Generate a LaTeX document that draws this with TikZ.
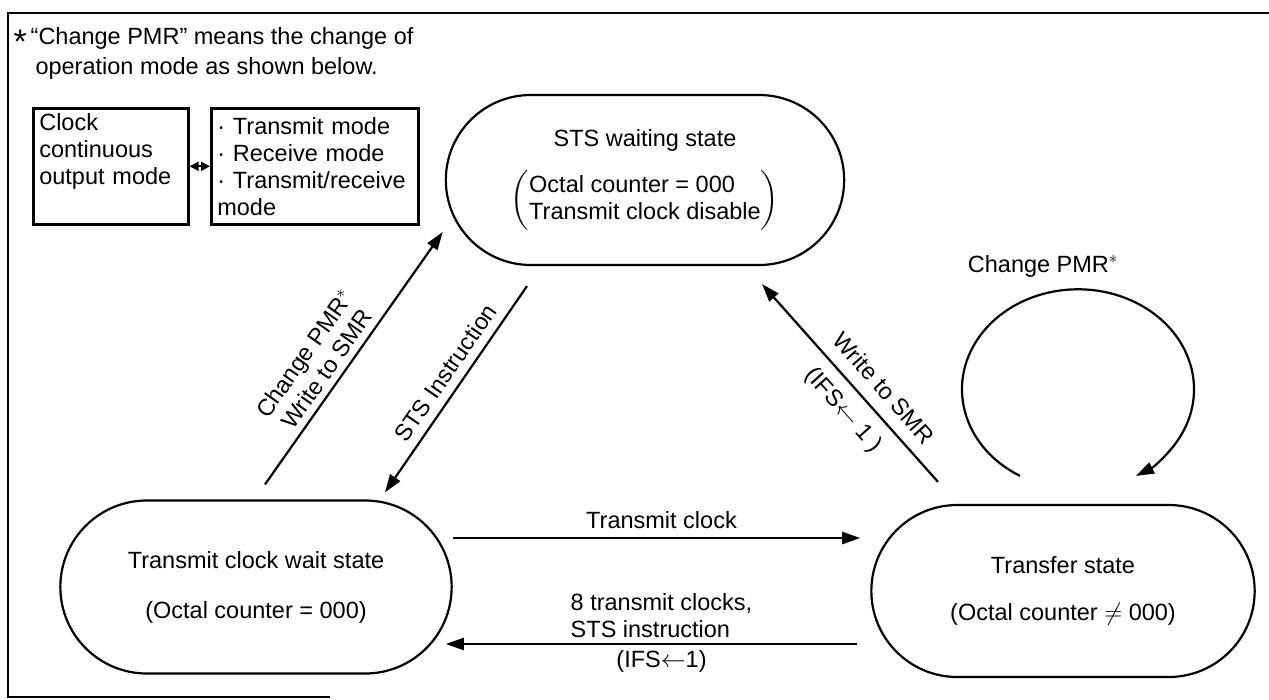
\documentclass[tikz,border=0pt]{standalone}
\usepackage{fontspec}
\setmainfont{Liberation Sans}
\usepackage{amsmath}
\usetikzlibrary{shapes.misc}
\usetikzlibrary{arrows.meta}
\usetikzlibrary{positioning}

\begin{document}
\begin{tikzpicture}[
		x=1pt,
		y=1pt,
		font=\fontsize{23.5pt}{27pt}\selectfont,
		>={Triangle[length=18pt,width=12pt]},
	]
		\tikzset{state/.style={
			draw,
			rounded rectangle,
			line width=2.2pt,
			align=center,
		}}
		\tikzset{modebox/.style={
			draw,
			rectangle,
			line width=2.6pt,
			anchor=north west,
			minimum height=116,
			inner xsep=6,
			align=left,
		}}
		\tikzset{flow/.style={
			line width=2.2pt,
		}}

		\useasboundingbox (0,0) rectangle (1269,-699);

		% frame
		\draw[line width=2.6pt] (1269,-13) -- (8,-13) -- (8,-697) -- (330,-697);

		%---------------------------------
		% Note
		\node[anchor=west] (note1) at (10,-40) {\raisebox{-9pt}{\fontsize{34pt}{34pt}\selectfont *}\,``Change PMR'' means the change of};
		\node[
			anchor=west,
			xshift=22,
			yshift=-28,
		] (note2) at (note1.west) {operation mode as shown below.};

		\node[
			modebox,
			text width=143,
		] (clockbox) at (32,-107) {Clock\\continuous\\output mode\\\strut};
		\node[
			modebox,
			text width=195,
		] (modebox) at (210,-107) {·\ Transmit mode\\·\ Receive mode\\·\ Transmit/receive\\mode};

		\draw[{Triangle[length=9pt,width=9pt]}-{Triangle[length=9pt,width=9pt]}, line width=2pt] (clockbox) -- (modebox);

		%---------------------------------
		% States
		\node[
			state,
			minimum width=405,
			minimum height=170,
		] (stswait) at (645,-180) {STS waiting state\\[18pt]$\left(\begin{tabular}{@{}l@{}}Octal counter = 000\\Transmit clock disable\end{tabular}\right)$};
		\node[
			state,
			minimum width=398,
			minimum height=173,
		] (clkwait) at (256,-587) {Transmit clock wait state\\[23pt](Octal counter = 000)};
		\node[
			state,
			minimum width=390,
			minimum height=172,
		] (transfer) at (1063,-591) {Transfer state\\[20pt](Octal counter $\neq$ 000)};

		%---------------------------------
		% Transitions
		\draw[flow, ->] ([shift={(9,15)}]clkwait.north) -- node[pos=0.42, sloped, above=3pt, align=center] {Change PMR$^*$\\Write to SMR} ([shift={(-2,-52)}]stswait.west);
		\draw[flow, <-] ([shift={(129,7)}]clkwait.north) -- node[pos=0.53, sloped, above=5pt] {STS Instruction} ([shift={(-118,-20)}]stswait.south);
		\draw[flow, <-] ([shift={(117,-18)}]stswait.south) -- node[pos=0.6, sloped, above=9pt] {Write to SMR} node[pos=0.56, sloped, below=8pt] {(IFS$\leftarrow$ 1 )} ([shift={(-125,22)}]transfer.north);

		\draw[flow, ->, shorten >=10pt] ([yshift=49]clkwait.east) -- node[above=5pt] {Transmit clock} ([yshift=49]clkwait.east -| transfer.west);
		\draw[flow, ->, shorten <=13pt, shorten >=-7pt] ([yshift=-53]transfer.west) -- node[above=2pt, align=left] {8 transmit clocks,\\STS instruction} node[below=2pt] {(IFS$\leftarrow$1)} ([yshift=-53]transfer.west -| clkwait.east);

		% self loop
		\draw[flow, ->] ([shift={(-43,28)}]transfer.north) arc[start angle=240, end angle=-60, x radius=116, y radius=100];
		\node[anchor=south] (pmrloop) at ([shift={(-20,223)}]transfer.north) {Change PMR$^*$};
	\end{tikzpicture}
\end{document}
